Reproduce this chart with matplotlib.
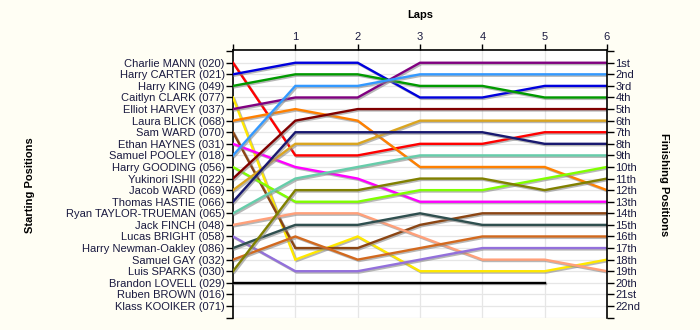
import matplotlib
matplotlib.use("Agg")
import matplotlib.pyplot as plt
import matplotlib.patheffects as pe

plt.rcParams['font.family'] = ['Liberation Sans', 'DejaVu Sans']

riders = ["Charlie MANN (020)", "Harry CARTER (021)", "Harry KING (049)", "Caitlyn CLARK (077)",
          "Elliot HARVEY (037)", "Laura BLICK (068)", "Sam WARD (070)", "Ethan HAYNES (031)",
          "Samuel POOLEY (018)", "Harry GOODING (056)", "Yukinori ISHII (022)", "Jacob WARD (069)",
          "Thomas HASTIE (066)", "Ryan TAYLOR-TRUEMAN (065)", "Jack FINCH (048)", "Lucas BRIGHT (058)",
          "Harry Newman-Oakley (086)", "Samuel GAY (032)", "Luis SPARKS (030)", "Brandon LOVELL (029)",
          "Ruben BROWN (016)", "Klass KOOIKER (071)"]

finish_labels = ["1st", "2nd", "3rd", "4th", "5th", "6th", "7th", "8th", "9th", "10th", "11th",
                 "12th", "13th", "14th", "15th", "16th", "17th", "18th", "19th", "20th", "21st", "22nd"]

laps = [0, 1, 2, 3, 4, 5, 6]

positions = {
    "Charlie MANN (020)": [1, 9, 9, 8, 8, 7, 7],
    "Harry CARTER (021)": [2, 1, 1, 4, 4, 3, 3],
    "Harry KING (049)": [3, 2, 2, 3, 3, 4, 4],
    "Caitlyn CLARK (077)": [4, 18, 16, 19, 19, 19, 18],
    "Elliot HARVEY (037)": [5, 4, 4, 1, 1, 1, 1],
    "Laura BLICK (068)": [6, 5, 6, 10, 10, 10, 12],
    "Sam WARD (070)": [7, 17, 17, 15, 14, 14, 14],
    "Ethan HAYNES (031)": [8, 10, 11, 13, 13, 13, 13],
    "Samuel POOLEY (018)": [9, 3, 3, 2, 2, 2, 2],
    "Harry GOODING (056)": [10, 13, 13, 12, 12, 11, 10],
    "Yukinori ISHII (022)": [11, 6, 5, 5, 5, 5, 5],
    "Jacob WARD (069)": [12, 8, 8, 6, 6, 6, 6],
    "Thomas HASTIE (066)": [13, 7, 7, 7, 7, 8, 8],
    "Ryan TAYLOR-TRUEMAN (065)": [14, 11, 10, 9, 9, 9, 9],
    "Jack FINCH (048)": [15, 14, 14, 16, 18, 18, 19],
    "Lucas BRIGHT (058)": [16, 19, 19, 18, 17, 17, 17],
    "Harry Newman-Oakley (086)": [17, 15, 15, 14, 15, 15, 15],
    "Samuel GAY (032)": [18, 16, 18, 17, 16, 16, 16],
    "Luis SPARKS (030)": [19, 12, 12, 11, 11, 12, 11],
    "Brandon LOVELL (029)": [20, 20, 20, 20, 20, 20],
}

colors = {
    "Charlie MANN (020)": "#FF0000",
    "Harry CARTER (021)": "#0000DD",
    "Harry KING (049)": "#009A00",
    "Caitlyn CLARK (077)": "#FFE800",
    "Elliot HARVEY (037)": "#800080",
    "Laura BLICK (068)": "#FF8000",
    "Sam WARD (070)": "#8B4513",
    "Ethan HAYNES (031)": "#FF00FF",
    "Samuel POOLEY (018)": "#3399FF",
    "Harry GOODING (056)": "#80FF00",
    "Yukinori ISHII (022)": "#800000",
    "Jacob WARD (069)": "#DAA520",
    "Thomas HASTIE (066)": "#191970",
    "Ryan TAYLOR-TRUEMAN (065)": "#66CDAA",
    "Jack FINCH (048)": "#FFA07A",
    "Lucas BRIGHT (058)": "#9370DB",
    "Harry Newman-Oakley (086)": "#2F4F4F",
    "Samuel GAY (032)": "#D2691E",
    "Luis SPARKS (030)": "#808000",
    "Brandon LOVELL (029)": "#000000",
}

bg = "#FFFEF4"
fig = plt.figure(figsize=(7, 3.3), dpi=100, facecolor=bg)
ax = fig.add_axes([233 / 700, 1 - 318 / 330, (607 - 233) / 700, (318 - 50) / 330])
ax.set_facecolor("white")

n = len(riders)
ax.set_xlim(0, 6)
ax.set_ylim(n + 1.04, -0.1)

# grid
for p in range(1, n + 2):
    ax.axhline(p, color="#E6E6E6", lw=0.9, zorder=0)
for l in laps[1:-1]:
    ax.axvline(l, color="#E6E6E6", lw=0.9, zorder=0)

shadow = [pe.SimpleLineShadow(offset=(1.0, -1.0), shadow_color="#888888", alpha=0.6), pe.Normal()]
for r in riders:
    if r in positions:
        ys = positions[r]
        ax.plot(laps[:len(ys)], ys, color=colors[r], lw=1.7, zorder=3,
                solid_joinstyle="miter", path_effects=shadow)

# left axis
ax.set_yticks(range(0, n + 2))
ax.set_yticklabels([""] + riders + [""], fontsize=8, color="#1A1A40")
ax.tick_params(axis="y", direction="out", length=5, width=1, pad=1)

# top axis
ax.xaxis.tick_top()
ax.xaxis.set_label_position("top")
ax.set_xticks(laps)
ax.set_xticklabels([""] + [str(l) for l in laps[1:]], fontsize=8, color="#1A1A40")
ax.tick_params(axis="x", direction="out", length=4, width=1, pad=2)
ax.set_xlabel("Laps", fontsize=8, fontweight="bold", labelpad=10)

for s in ["bottom", "right"]:
    ax.spines[s].set_visible(False)
for s in ["left", "top"]:
    ax.spines[s].set_linewidth(1.2)

fig.text(30 / 700, 1 - 185 / 330, "Starting Positions", fontsize=8, fontweight="bold",
         rotation=90, ha="center", va="center")
fig.text(664 / 700, 1 - 185 / 330, "Finishing Positions", fontsize=8, fontweight="bold",
         rotation=270, ha="center", va="center")

# right axis
ax2 = ax.twinx()
ax2.set_ylim(ax.get_ylim())
ax2.set_yticks(range(0, n + 2))
ax2.set_yticklabels([""] + finish_labels + [""], fontsize=8, color="#1A1A40")
ax2.tick_params(axis="y", direction="out", length=5, width=1, pad=1)
for s in ["bottom", "top", "left"]:
    ax2.spines[s].set_visible(False)
ax2.spines["right"].set_linewidth(1.2)

fig.savefig("out.png", dpi=100, facecolor=bg)
